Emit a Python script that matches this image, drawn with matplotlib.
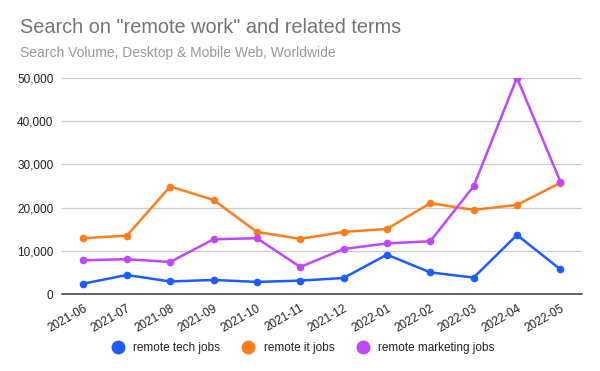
import matplotlib.pyplot as plt
from matplotlib.ticker import FuncFormatter

plt.rcParams['font.family'] = ['Liberation Sans', 'DejaVu Sans']

months = ['2021-06', '2021-07', '2021-08', '2021-09', '2021-10', '2021-11',
          '2021-12', '2022-01', '2022-02', '2022-03', '2022-04', '2022-05']
tech_jobs = [2400, 4400, 2900, 3250, 2800, 3100, 3700, 9100, 5000, 3800, 13650, 5700]
it_jobs = [12900, 13500, 24850, 21750, 14350, 12750, 14350, 15050, 21000, 19450, 20600, 25700]
marketing_jobs = [7800, 8050, 7400, 12650, 12900, 6250, 10400, 11700, 12200, 24900, 50000, 26000]

series = [
    ('remote tech jobs', tech_jobs, '#1d5cff'),
    ('remote it jobs', it_jobs, '#ff7d1a'),
    ('remote marketing jobs', marketing_jobs, '#c246fc'),
]

fig = plt.figure(figsize=(6, 3.71), dpi=100)
ax = fig.add_axes([0.103, 0.2075, 0.867, 0.583])

x = range(len(months))
for name, vals, color in series:
    ax.plot(x, vals, color=color, lw=1.8, marker='o', markersize=4.5, label=name)

ax.set_xlim(-0.5, len(months) - 0.5)
ax.set_ylim(0, 50000)
ax.set_yticks(range(0, 50001, 10000))
ax.yaxis.set_major_formatter(FuncFormatter(lambda v, p: f'{int(v):,}'))
ax.set_xticks(list(x))
ax.set_xticklabels(months, rotation=30, ha='right', rotation_mode='anchor')
ax.tick_params(axis='both', length=0, labelsize=8.5, colors='#222222')
ax.tick_params(axis='x', pad=6)
ax.tick_params(axis='y', pad=6)
ax.grid(axis='y', color='#cccccc', lw=0.9)
ax.set_axisbelow(True)
for s in ['top', 'right', 'left']:
    ax.spines[s].set_visible(False)
ax.spines['bottom'].set_color('#333333')
ax.spines['bottom'].set_linewidth(1.1)
ax.spines['bottom'].set_zorder(0.5)

fig.text(0.033, 0.927, 'Search on "remote work" and related terms', fontsize=14.3,
         color='#757575', va='center')
fig.text(0.033, 0.857, 'Search Volume, Desktop & Mobile Web, Worldwide', fontsize=10,
         color='#999999', va='center')

handles = [plt.Line2D([], [], ls='none', marker='o', markersize=9, color=c) for _, _, c in series]
fig.legend(handles, [n for n, _, _ in series], loc='center', bbox_to_anchor=(0.5, 0.062),
           ncol=3, frameon=False, fontsize=8.5, handletextpad=0.3, columnspacing=1.4,
           labelcolor='#222222')

fig.savefig('out.png', dpi=100)
